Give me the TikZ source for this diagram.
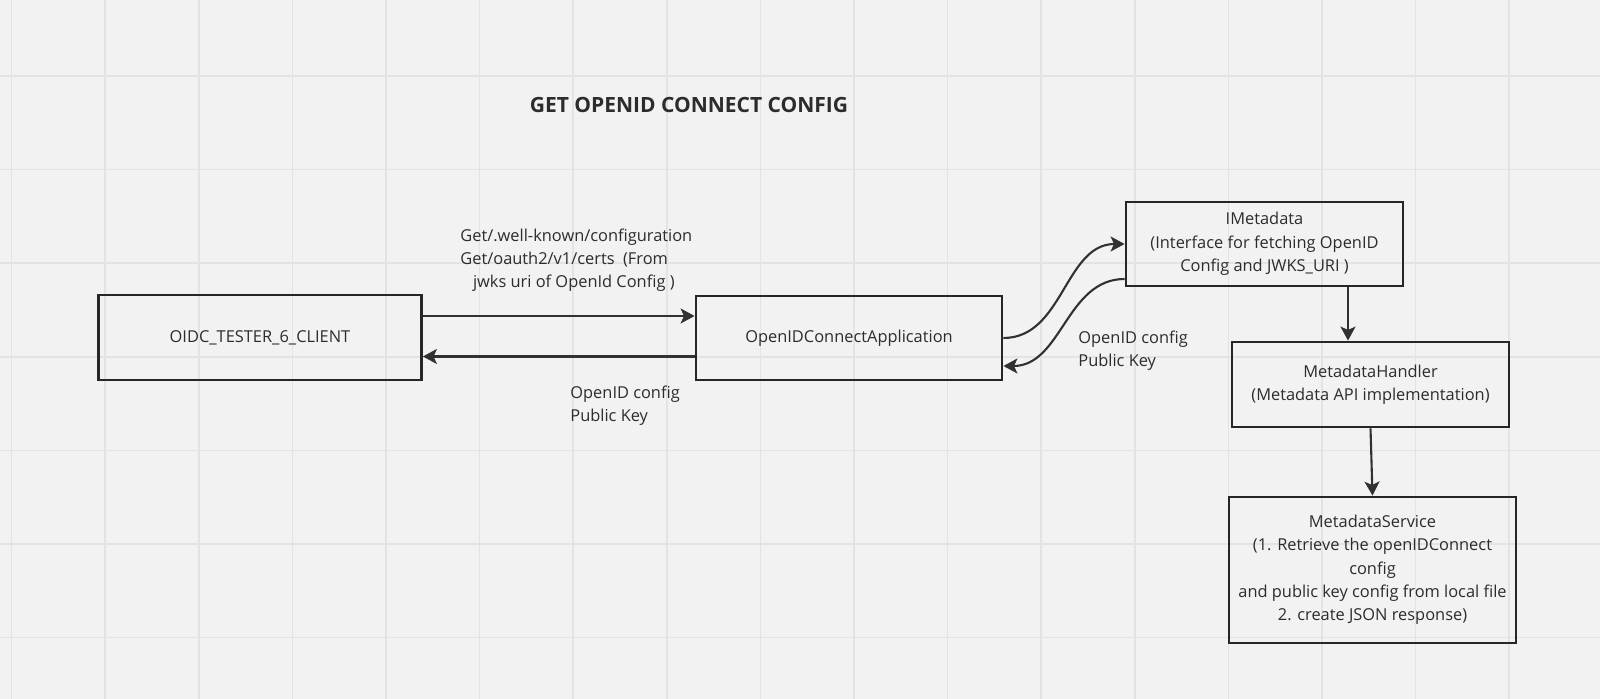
\documentclass[tikz,border=0pt]{standalone}
\usepackage{fontspec}
\setmainfont{Open Sans}
\usetikzlibrary{arrows.meta,calc}

\definecolor{bgcol}{HTML}{F2F2F2}
\definecolor{gridcol}{HTML}{E3E3E3}
\definecolor{inkcol}{HTML}{262626}
\definecolor{txtcol}{HTML}{2C2C2C}

\begin{document}
\begin{tikzpicture}[x=0.5pt,y=-0.5pt]

\tikzset{
    box/.style={draw=inkcol,line width=1.4pt,text=txtcol,align=center,
        font=\fontsize{8.2pt}{11.65pt}\selectfont,inner sep=0pt},
    lbl/.style={text=txtcol,align=left,inner sep=0pt,anchor=west,
        font=\fontsize{8.2pt}{11.65pt}\selectfont},
    arr/.style={draw=inkcol!95,line width=1.05pt,
        -{Stealth[length=7pt,width=7.5pt,inset=1.7pt]}},
    gridline/.style={draw=gridcol,line width=0.8pt}}

% background and grid
\fill[bgcol] (0,0) rectangle (1600,699);
\useasboundingbox (0,0) rectangle (1600,699);
\foreach \x in {0,...,17}
    \draw[gridline] ({11.5+93.6*\x},0) -- ++(0,699);
\foreach \y in {0,...,6}
    \draw[gridline] (0,{76+93.6*\y}) -- ++(1600,0);

% title
\node[text=txtcol,font=\fontsize{10.5pt}{12pt}\selectfont\bfseries] (title) at (689,105) {GET OPENID CONNECT CONFIG};

% boxes
\node[box, minimum width=161.5pt, minimum height=42.5pt] (client) at (260,337.5) {OIDC\_TESTER\_6\_CLIENT};
\node[box, minimum width=153pt, minimum height=42pt] (app) at (849,338) {OpenIDConnectApplication};
\node[box, minimum width=138.5pt, minimum height=42pt] (imeta) at (1264.5,244) {IMetadata\\(Interface for fetching OpenID\\Config and JWKS\_URI )};
\node[box, minimum width=138.5pt, minimum height=42.5pt] (handler) at (1370.5,384.5) {MetadataHandler\\(Metadata API implementation)};
\node[box, minimum width=143.5pt, minimum height=73pt] (service) at (1372.5,570) {MetadataService\\(1. Retrieve the openIDConnect\\config\\and public key config from local file\\2. create JSON response)};

% labels
\node[lbl] (req) at (460,260) {Get/.well-known/configuration\\Get/oauth2/v1/certs\ \ (From\\\hspace*{6.3pt}jwks uri of OpenId Config )};
\node[lbl] (resp) at (570,406) {OpenID config\\Public Key};
\node[lbl] (resp2) at (1078,350.5) {OpenID config\\Public Key};

% connectors
\draw[arr] ([yshift=10.75pt]client.east) -- ([yshift=10.75pt]client.east -| app.west);
\draw[arr] ([yshift=-9.25pt]app.west) -- ([yshift=-9.25pt]app.west -| client.east);

\draw[arr] (app.east) to[out=0,in=180] (imeta.west);
\draw[arr] ([yshift=-17.5pt]imeta.west) to[out=180,in=0] ([yshift=-14pt]app.east);

\draw[arr] ([xshift=41.75pt]imeta.south) -- ([xshift=41.75pt]imeta.south |- handler.north);
\draw[arr] (handler.south) -- (service.north);

\end{tikzpicture}
\end{document}
